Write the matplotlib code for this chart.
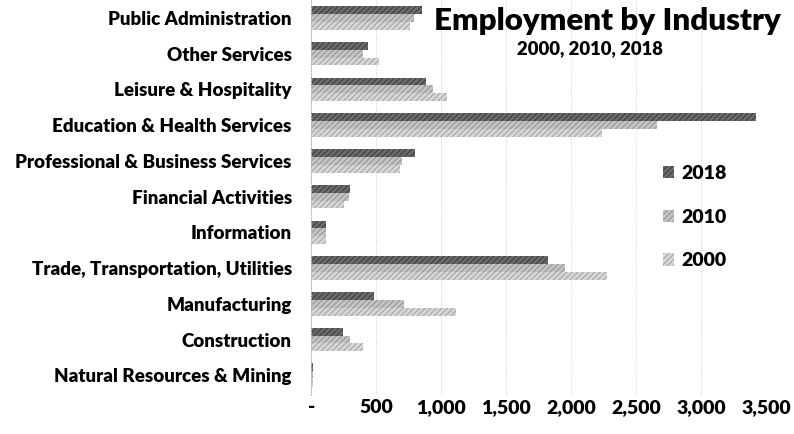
import matplotlib
matplotlib.use("Agg")
import matplotlib.pyplot as plt
import numpy as np
from matplotlib.patches import Patch
from matplotlib.ticker import FuncFormatter

plt.rcParams["font.family"] = ["Lato", "DejaVu Sans"]
plt.rcParams["font.weight"] = "heavy"
plt.rcParams["hatch.linewidth"] = 0.6

# bottom to top, as drawn on the y axis
industries = [
    "Natural Resources & Mining",
    "Construction",
    "Manufacturing",
    "Trade, Transportation, Utilities",
    "Information",
    "Financial Activities",
    "Professional & Business Services",
    "Education & Health Services",
    "Leisure & Hospitality",
    "Other Services",
    "Public Administration",
]
jobs_2018 = [12, 245, 480, 1825, 115, 300, 800, 3420, 880, 440, 850]
jobs_2010 = [10, 300, 710, 1955, 115, 290, 700, 2660, 940, 400, 790]
jobs_2000 = [14, 400, 1110, 2275, 110, 250, 685, 2240, 1045, 525, 760]
years = ["2018", "2010", "2000"]

W = "heavy"

fig = plt.figure(figsize=(7.94, 4.34), dpi=100)
ax = fig.add_axes([0.392, 0.09, 0.573, 0.91])

y = np.arange(len(industries))
h = 0.22
styles = [
    ("#6a6a6a", "#333333"),
    ("#c4c4c4", "#8a8a8a"),
    ("#d6d6d6", "#9a9a9a"),
]
series = [jobs_2018, jobs_2010, jobs_2000]
for i, (vals, (fc, ec)) in enumerate(zip(series, styles)):
    ax.barh(y + h * (1 - i), vals, height=h, color=fc, edgecolor=ec,
            hatch="//////", linewidth=0, label=years[i])

ax.set_xlim(0, 3500)
ax.set_ylim(-0.55, 10.5)
ax.set_yticks(y)
ax.set_yticklabels(industries, fontsize=13.5, fontweight=W)
ax.set_xticks(np.arange(0, 3501, 500))
ax.xaxis.set_major_formatter(FuncFormatter(lambda v, _: "-" if v == 0 else f"{int(v):,}"))
ax.tick_params(axis="x", labelsize=14, length=0, pad=3)
ax.tick_params(axis="y", length=0, pad=14)
for lab in ax.get_xticklabels():
    lab.set_fontweight(W)

for s in ["top", "right", "bottom"]:
    ax.spines[s].set_visible(False)
ax.spines["left"].set_color("#bbbbbb")
ax.spines["left"].set_linestyle(":")
ax.spines["left"].set_linewidth(0.8)
ax.xaxis.grid(True, color="#cccccc", linestyle=":", linewidth=0.7)
ax.set_axisbelow(True)

handles = [Patch(facecolor=fc, edgecolor=ec, hatch="//////", linewidth=0)
           for fc, ec in styles]
ax.legend(handles, years, loc="center left", bbox_to_anchor=(0.755, 0.45),
          frameon=False, labelspacing=1.37, handlelength=0.6,
          handleheight=0.6, handletextpad=0.35, borderaxespad=0,
          prop={"weight": W, "size": 14})

fig.text(0.765, 0.952, "Employment by Industry", ha="center", va="center",
         fontsize=22.5, fontweight=W)
fig.text(0.743, 0.888, "2000, 2010, 2018", ha="center", va="center",
         fontsize=13.3, fontweight=W)

fig.savefig("out.png", dpi=100, facecolor="white")
